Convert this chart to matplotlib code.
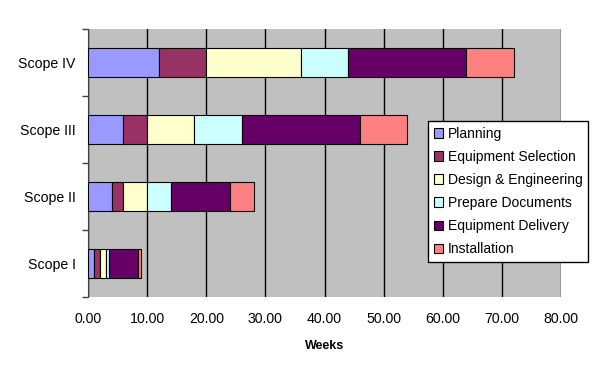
import matplotlib.pyplot as plt
import numpy as np
from matplotlib.ticker import FixedLocator

plt.rcParams['font.family'] = ['Liberation Sans', 'DejaVu Sans']

# Data (weeks per phase)
scopes = ["Scope I", "Scope II", "Scope III", "Scope IV"]
phases = ["Planning", "Equipment Selection", "Design & Engineering",
          "Prepare Documents", "Equipment Delivery", "Installation"]
planning = [1, 4, 6, 12]
equip_sel = [1, 2, 4, 8]
design = [1, 4, 8, 16]
prepare = [0.5, 4, 8, 8]
delivery = [5, 10, 20, 20]
install = [0.5, 4, 8, 8]
colors = ["#9999FF", "#993366", "#FFFFCC", "#CCFFFF", "#660066", "#FF8080"]
xticks = np.arange(0, 81, 10)

values = [planning, equip_sel, design, prepare, delivery, install]

fig = plt.figure(figsize=(6.02, 3.84), dpi=100)
ax = fig.add_axes([88 / 602, 1 - 297 / 384, (561 - 88) / 602, (297 - 29) / 384])
ax.set_facecolor("#C0C0C0")

y = np.arange(len(scopes))
left = np.zeros(len(scopes))
for name, vals, c in zip(phases, values, colors):
    ax.barh(y, vals, left=left, height=0.42, color=c, edgecolor="black",
            linewidth=0.8, label=name, zorder=3)
    left += np.array(vals)

ax.set_xlim(0, 80)
ax.set_ylim(-0.5, len(scopes) - 0.5)
ax.set_xticks(xticks)
ax.set_xticklabels([f"{v:.2f}" for v in xticks])
ax.grid(axis="x", color="black", linewidth=1, zorder=1)
ax.set_yticks(y)
ax.set_yticklabels(scopes)
ax.yaxis.set_minor_locator(FixedLocator(np.arange(-0.5, len(scopes), 1)))
ax.tick_params(axis="y", which="major", length=0, pad=9, labelsize=10.2)
ax.tick_params(axis="y", which="minor", length=4, width=1, color="#404040")
ax.tick_params(axis="x", length=0, pad=11, labelsize=10.2)
for s in ["top", "right"]:
    ax.spines[s].set_visible(False)
ax.spines["left"].set_color("#404040")
ax.spines["bottom"].set_visible(False)
ax.set_xlabel("Weeks", fontweight="bold", fontsize=9, labelpad=10)

leg = ax.legend(loc="upper left", bbox_to_anchor=((428 - 88) / 473, 1 - (121 - 29) / 268),
                frameon=True, fancybox=False, edgecolor="black", framealpha=1,
                fontsize=10, handlelength=0.7, handleheight=0.7, handletextpad=0.35,
                labelspacing=0.66, borderpad=0.4, borderaxespad=0)
leg.get_frame().set_linewidth(1)

fig.savefig("out.png", dpi=100, facecolor="white")
